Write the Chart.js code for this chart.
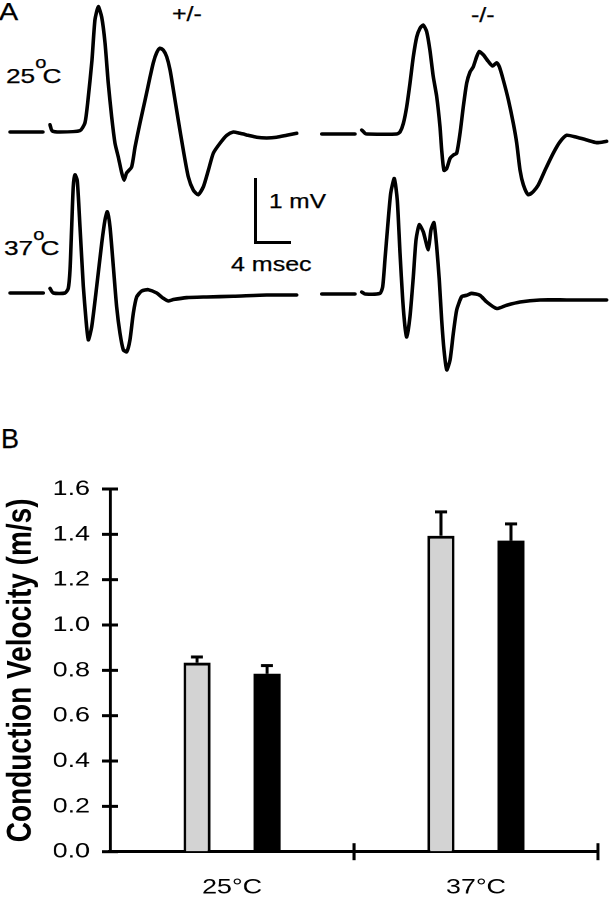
<!DOCTYPE html>
<html lang="en">
<head>
  <meta charset="UTF-8">
  <title>Conduction velocity</title>
  <script src="https://cdn.jsdelivr.net/npm/chart.js@4"></script>
  <style>
    body { margin: 0; width: 609px; height: 899px; overflow: hidden; background: #fff; position: relative;
           font-family: "Liberation Sans", Arial, sans-serif; color: #000; }
    .box { position: absolute; }
    .lbl { position: absolute; line-height: 1; white-space: nowrap; transform: scaleX(1.25); transform-origin: 0 0;
           -webkit-text-stroke: 0.25px #000; }
    .deg { position: relative; top: -15px; font-size: 16px; margin-right: -3px; }
    #scaleBar { position: absolute; left: 254px; top: 178px; width: 37px; height: 66px; box-sizing: border-box;
                border-left: 3px solid #000; border-bottom: 3px solid #000; }
    #panelB { position: absolute; left: 0; top: 460px; width: 487.2px; height: 439px;
              transform: scaleX(1.25); transform-origin: 0 0; }
  </style>
</head>
<body>
  <div class="lbl" style="left:-1px; top:0.5px; font-size:23px;">A</div>
  <div class="lbl" style="left:172px; top:3.5px; font-size:20px;">+/-</div>
  <div class="lbl" style="left:470.5px; top:4.5px; font-size:20px;">-/-</div>
  <div class="lbl" style="left:6px; top:65px; font-size:21px;">25<span class="deg">o</span>C</div>
  <div class="lbl" style="left:4px; top:237px; font-size:21px;">37<span class="deg">o</span>C</div>
  <div class="lbl" style="left:269px; top:192px; font-size:19.5px;">1 mV</div>
  <div class="lbl" style="left:231px; top:253.5px; font-size:20px;">4 msec</div>
  <div id="scaleBar"></div>
  <div class="lbl" style="left:1px; top:425.5px; font-size:27px; transform:none;">B</div>

  <div class="box" style="left:0; top:0; width:305px; height:210px;"><canvas id="het25"></canvas></div>
  <div class="box" style="left:310px; top:0; width:299px; height:210px;"><canvas id="ko25"></canvas></div>
  <div class="box" style="left:0; top:160px; width:305px; height:215px;"><canvas id="het37"></canvas></div>
  <div class="box" style="left:310px; top:160px; width:299px; height:225px;"><canvas id="ko37"></canvas></div>

  <div id="panelB"><canvas id="velocityChart"></canvas></div>

  <script>
    // panel A: compound action potentials, time (msec) vs amplitude (mV); null = stimulus gap
    const hetTime25 = [0, 3.77, 4.2, 4.57, 4.8, 5.71, 8.0, 8.57, 8.91, 9.37, 9.71, 10.09, 10.48, 10.86, 11.23, 11.62, 12.0, 12.38, 12.77, 13.03, 13.33, 13.9, 14.29, 14.86, 15.43, 16.0, 16.38, 16.76, 17.14, 17.52, 17.91, 18.29, 18.67, 19.23, 19.8, 20.38, 20.95, 21.52, 22.1, 22.67, 23.24, 24.0, 24.77, 25.52, 26.29, 27.23, 28.19, 29.33, 30.48, 31.62, 32.77];
    const hetMv25 = [0, 0, null, 0.11, 0.02, 0, 0.02, 0.14, 0.48, 1.09, 1.70, 1.90, 1.74, 1.35, 0.74, 0.23, -0.17, -0.38, -0.62, -0.73, -0.62, -0.53, -0.23, 0.14, 0.48, 0.83, 1.05, 1.20, 1.27, 1.24, 1.14, 0.94, 0.64, 0.18, -0.27, -0.68, -0.88, -0.95, -0.83, -0.58, -0.32, -0.17, -0.05, 0, -0.02, -0.05, -0.08, -0.09, -0.08, -0.05, -0.02];

    const koTime25 = [0, 3.81, 4.2, 4.57, 4.95, 5.18, 8.57, 8.95, 9.33, 9.71, 10.09, 10.47, 10.86, 11.23, 11.61, 12.0, 12.37, 12.75, 13.14, 13.52, 13.71, 13.97, 14.29, 14.67, 15.04, 15.43, 15.81, 16.18, 16.57, 16.95, 17.33, 17.71, 18.01, 18.47, 19.04, 19.54, 20.0, 20.3, 20.75, 21.33, 21.9, 22.29, 22.67, 23.05, 23.61, 24.19, 24.76, 25.52, 26.47, 27.23, 28.0, 29.14, 30.29, 31.43, 32.57];
    const koMv25 = [0, 0, null, 0.06, 0.01, 0, 0, 0.03, 0.16, 0.41, 0.77, 1.17, 1.47, 1.60, 1.65, 1.55, 1.27, 0.87, 0.57, 0.11, -0.24, -0.55, -0.52, -0.37, -0.32, -0.29, 0.01, 0.41, 0.77, 0.94, 1.02, 1.17, 1.25, 1.20, 1.10, 1.03, 1.08, 1.02, 0.82, 0.52, 0.16, -0.14, -0.55, -0.77, -0.92, -0.87, -0.77, -0.55, -0.29, -0.12, -0.02, -0.05, -0.09, -0.13, -0.11];

    const hetTime37 = [0, 3.81, 4.2, 4.57, 4.95, 6.29, 6.66, 6.86, 7.05, 7.23, 7.43, 7.69, 8.0, 8.38, 8.69, 8.95, 9.34, 9.91, 10.48, 10.86, 11.12, 11.43, 11.81, 12.19, 12.57, 12.95, 13.34, 13.71, 14.09, 14.48, 15.05, 15.81, 16.77, 17.52, 18.09, 18.66, 20.19, 22.48, 25.52, 29.34, 32.77];
    const hetMv37 = [0, 0, null, 0.07, 0, 0, 0.07, 0.35, 1.0, 1.61, 1.79, 1.70, 1.0, 0.10, -0.41, -0.71, -0.51, 0.10, 0.75, 1.11, 1.23, 1.0, 0.40, -0.21, -0.61, -0.86, -0.89, -0.71, -0.31, -0.06, 0.03, 0.05, 0, -0.08, -0.12, -0.10, -0.07, -0.06, -0.05, -0.03, -0.03];

    const koTime37 = [0, 3.81, 4.2, 4.57, 4.95, 6.66, 6.97, 7.23, 7.54, 7.89, 8.3, 8.64, 8.95, 9.26, 9.52, 9.71, 10.09, 10.47, 10.78, 11.15, 11.61, 12.18, 12.49, 12.83, 13.14, 13.44, 13.71, 13.98, 14.29, 14.67, 15.04, 15.43, 16.0, 16.57, 17.14, 18.09, 18.86, 20.0, 21.14, 22.67, 24.95, 28.0, 32.57];
    const koMv37 = [0, 0, null, 0.03, 0, 0.01, 0.11, 0.52, 1.02, 1.53, 1.75, 1.42, 0.62, -0.09, -0.50, -0.65, -0.34, 0.26, 0.82, 1.05, 0.94, 0.67, 0.97, 1.08, 0.72, 0.21, -0.39, -0.85, -1.15, -1.0, -0.60, -0.24, -0.04, -0.02, 0.01, -0.02, -0.12, -0.22, -0.17, -0.12, -0.09, -0.09, -0.09];

    // panel B: conduction velocity (m/s), mean and SEM
    const temps = ["25°C", "37°C"];
    const hetVelocity = [0.834, 1.394];
    const hetSem = [0.025, 0.105];
    const koVelocity = [0.785, 1.372];
    const koSem = [0.036, 0.074];
    const velMin = 0, velMax = 1.6, velStep = 0.2;

    const pxPerMs = 8.75, pxPerMv = 66;   // from the 4 msec / 1 mV scale bar

    function drawTrace(id, times, mv, originX, baseY) {
      const el = document.getElementById(id);
      const box = el.parentElement;
      const left = box.offsetLeft, top = box.offsetTop, w = box.clientWidth, h = box.clientHeight;
      new Chart(el, {
        type: 'line',
        data: {
          datasets: [{
            data: times.map((t, i) => ({ x: t, y: mv[i] })),
            borderColor: '#000', borderWidth: 3.6, pointRadius: 0, tension: 0.2,
            borderJoinStyle: 'round', borderCapStyle: 'round', spanGaps: false
          }]
        },
        options: {
          responsive: true, maintainAspectRatio: false, animation: false,
          layout: { padding: 0 },
          plugins: { legend: { display: false }, tooltip: { enabled: false } },
          scales: {
            x: { type: 'linear', display: false, min: (left - originX) / pxPerMs, max: (left + w - originX) / pxPerMs },
            y: { display: false, min: (baseY - top - h) / pxPerMv, max: (baseY - top) / pxPerMv }
          }
        }
      });
    }

    drawTrace('het25', hetTime25, hetMv25, 10, 132);
    drawTrace('ko25', koTime25, koMv25, 321.7, 134);
    drawTrace('het37', hetTime37, hetMv37, 10, 293);
    drawTrace('ko37', koTime37, koMv37, 321.7, 294);

    // upward-only error bars
    const errorBars = {
      id: 'errorBars',
      afterDatasetsDraw(chart) {
        const { ctx, scales: { y } } = chart;
        ctx.save();
        ctx.strokeStyle = '#000';
        chart.data.datasets.forEach((ds, di) => {
          chart.getDatasetMeta(di).data.forEach((bar, i) => {
            const top = y.getPixelForValue(ds.data[i] + ds.errors[i]);
            ctx.lineWidth = 2.4;
            ctx.beginPath(); ctx.moveTo(bar.x, bar.y); ctx.lineTo(bar.x, top); ctx.stroke();
            ctx.lineWidth = 3;
            ctx.beginPath(); ctx.moveTo(bar.x - 4.8, top); ctx.lineTo(bar.x + 4.8, top); ctx.stroke();
          });
        });
        ctx.restore();
      }
    };

    // tick marks that cross the axis lines
    const crossTicks = {
      id: 'crossTicks',
      afterDraw(chart) {
        const { ctx, scales: { x, y } } = chart;
        ctx.save();
        ctx.strokeStyle = '#000';
        ctx.lineWidth = 3;
        y.ticks.forEach(t => {
          const py = y.getPixelForValue(t.value);
          ctx.beginPath(); ctx.moveTo(x.left - 6.5, py); ctx.lineTo(x.left + 6.5, py); ctx.stroke();
        });
        ctx.lineWidth = 2.4;
        const n = x.ticks.length;
        for (let i = 1; i <= n; i++) {
          const px = x.left + i * x.width / n;
          ctx.beginPath(); ctx.moveTo(px, y.bottom - 8.5); ctx.lineTo(px, y.bottom + 8.5); ctx.stroke();
        }
        ctx.restore();
      }
    };

    const tickFont = { family: '"Liberation Sans", Arial, sans-serif', size: 21.5 };

    new Chart(document.getElementById('velocityChart'), {
      type: 'bar',
      data: {
        labels: temps,
        datasets: [
          { label: '+/-', data: hetVelocity, errors: hetSem, backgroundColor: '#d3d3d3', borderColor: '#000',
            borderWidth: { top: 3, left: 2.2, right: 2.2, bottom: 0 }, borderSkipped: false },
          { label: '-/-', data: koVelocity, errors: koSem, backgroundColor: '#000', borderColor: '#000', borderWidth: 0 }
        ]
      },
      options: {
        responsive: true, maintainAspectRatio: false, animation: false, devicePixelRatio: 2,
        categoryPercentage: 0.574, barPercentage: 0.386,
        layout: { padding: { top: 29, right: 8.8, left: 0, bottom: 0 } },
        plugins: { legend: { display: false }, tooltip: { enabled: false } },
        scales: {
          x: {
            z: 1,
            grid: { display: true, drawOnChartArea: false, drawTicks: true, tickLength: 8, color: 'rgba(0,0,0,0)' },
            border: { color: '#000', width: 3 },
            ticks: { color: '#000', font: tickFont, padding: 15.2, maxRotation: 0 },
            afterFit(s) { s.height = 47.3; }
          },
          y: {
            min: velMin, max: velMax,
            grid: { display: true, drawOnChartArea: false, drawTicks: true, tickLength: 6, color: 'rgba(0,0,0,0)' },
            border: { color: '#000', width: 2.4 },
            ticks: { stepSize: velStep, color: '#000', font: tickFont, padding: 10, callback: v => v.toFixed(1) },
            title: { display: true, text: 'Conduction Velocity (m/s)', color: '#000', padding: 0,
                     font: { family: '"Liberation Sans", Arial, sans-serif', size: 28, weight: 'bold' } },
            afterFit(s) { s.width = 88; }
          }
        }
      },
      plugins: [errorBars, crossTicks]
    });
  </script>
</body>
</html>
